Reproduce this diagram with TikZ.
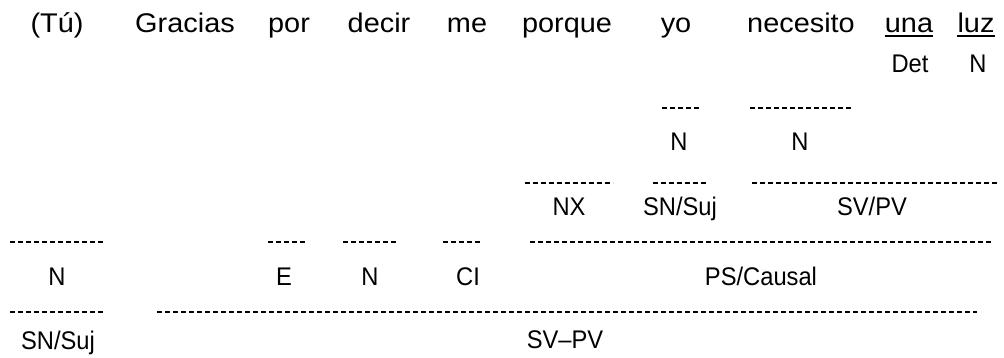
\documentclass[tikz,border=0pt]{standalone}
\usepackage{fontspec}
\setmainfont{Liberation Sans}
\newfontfamily\wordfont[FakeStretch=1.07]{Liberation Sans}
\newfontfamily\tagfont[FakeStretch=0.93]{Liberation Sans}
\begin{document}
\begin{tikzpicture}[x=1pt, y=-1pt,
    word/.style={anchor=base, inner sep=0pt, font=\wordfont\fontsize{27}{32}\selectfont},
    tag/.style={anchor=base, inner sep=0pt, font=\tagfont\fontsize{25.5}{30}\selectfont},
    bar/.style={line width=2.1pt, dash pattern=on 5.4pt off 2.6pt}]
    \useasboundingbox (0,0) rectangle (1004,357);
    % Words
    \node [word] (tu) at (57,32) {(Tú)};
    \node [word] (gracias) at (185,32) {Gracias};
    \node [word] (por) at (289,32) {por};
    \node [word] (decir) at (379,32) {decir};
    \node [word] (me) at (467,32) {me};
    \node [word] (porque) at (567,32) {porque};
    \node [word] (yo) at (676,32) {yo};
    \node [word] (necesito) at (801,32) {necesito};
    \node [word] (una) at (909,32) {una};
    \node [word] (luz) at (976,32) {luz};
    \draw [line width=1.6pt] ([yshift=-4pt]una.base west) -- ([yshift=-4pt]una.base east);
    \draw [line width=1.6pt] ([yshift=-4pt]luz.base west) -- ([yshift=-4pt]luz.base east);

    % Tags
    \node [tag] (det) at (910,72) {Det};
    \node [tag] (nluz) at (978,72) {N};
    \node [tag] (nyo) at (679,150) {N};
    \node [tag] (nnec) at (800,150) {N};
    \node [tag] (nx) at (569,215) {NX};
    \node [tag] (snsub) at (680,215) {SN/Suj};
    \node [tag] (svsub) at (872,215) {SV/PV};
    \node [tag] (ntu) at (57,285) {N};
    \node [tag] (e) at (284,285) {E};
    \node [tag] (ndecir) at (370,285) {N};
    \node [tag] (ci) at (468,285) {CI};
    \node [tag] (ps) at (761,285) {PS/Causal};
    \node [tag] (snmain) at (58,349) {SN/Suj};
    \node [tag] (svmain) at (565,348) {SV–PV};

    % Dashes
    \foreach \xa/\xb/\yy in {662/700/108, 750/853/108,
        525/613/183, 653/708/183, 752/998/183,
        10/105/242, 268/307/242, 343/398/242, 443/482/242, 530/993/242,
        10/105/312, 157/977/312}
        \draw [bar] (\xa,\yy) -- (\xb,\yy);
\end{tikzpicture}
\end{document}
